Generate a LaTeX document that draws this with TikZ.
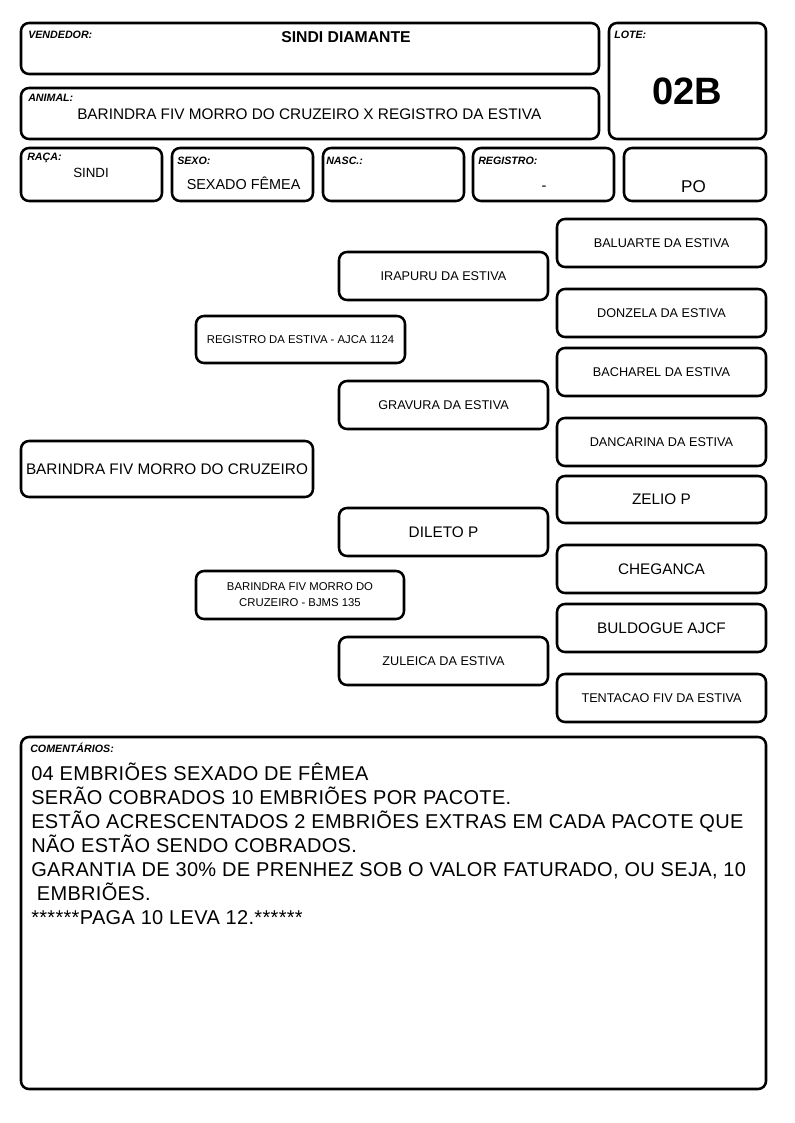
\documentclass[tikz,border=0pt]{standalone}
\usepackage{fontspec}
\setmainfont{Liberation Sans}
\newfontfamily\cmtfont[LetterSpace=1.6]{Liberation Sans}
\newcommand{\fs}[1]{\fontsize{#1}{#1}\selectfont}
\newcommand{\pbox}[7]{%
  \pgfmathsetmacro{\cxx}{(#2+#4)/2}\pgfmathsetmacro{\cyy}{(#3+#5)/2}%
  \pgfmathsetmacro{\ww}{(#4-#2)*0.75}\pgfmathsetmacro{\hh}{(#5-#3)*0.75}%
  \node[box, minimum width=\ww pt, minimum height=\hh pt, font=#6] (#1) at (\cxx,\cyy) {#7};}
\begin{document}
\begin{tikzpicture}[x=0.75pt,y=-0.75pt,
  box/.style={draw, line width=1.9pt, rounded corners=6pt, inner sep=0pt, align=center},
  lbl/.style={font=\fs{8}\bfseries\itshape, anchor=base west, inner sep=0pt},
  val/.style={inner sep=0pt},
  cmt/.style={inner sep=0pt, anchor=base west, font=\cmtfont\fs{15}}]
\useasboundingbox (0,0) rectangle (794,1123);
% header boxes
\pbox{vend}{21}{23}{599}{74}{}{}
\pbox{lote}{609}{23}{766}{139}{}{}
\pbox{anim}{21}{88}{599}{139}{}{}
\pbox{raca}{21}{148}{162}{201}{}{}
\pbox{sexo}{172}{148}{313}{201}{}{}
\pbox{nasc}{323}{148}{464}{201}{}{}
\pbox{regi}{473}{148}{614}{201}{}{}
\pbox{pobox}{624}{148}{766}{201}{}{}
\node[lbl] (lvend) at (28,39) {VENDEDOR:};
\node[lbl] (llote) at (614,38.5) {LOTE:};
\node[lbl] (lanim) at (28,102) {ANIMAL:};
\node[lbl] (lraca) at (27,161) {RAÇA:};
\node[lbl] (lsexo) at (177,164.5) {SEXO:};
\node[lbl] (lnasc) at (326,164.5) {NASC.:};
\node[lbl] (lregi) at (478,164.5) {REGISTRO:};
\node[val, anchor=base, font=\fs{11.8}\bfseries] (tvend) at (346,43) {SINDI DIAMANTE};
\node[val, anchor=base, font=\fs{28.6}\bfseries] (tlote) at (687,104.7) {02B};
\node[val, anchor=base west, font=\fs{11.5}] (tanim) at (77,119.5) {BARINDRA FIV MORRO DO CRUZEIRO X REGISTRO DA ESTIVA};
\node[val, anchor=base west, font=\fs{10}] (traca) at (73,178) {SINDI};
\node[val, anchor=base west, font=\fs{10.8}] (tsexo) at (186.5,189.5) {SEXADO FÊMEA};
\node[val, anchor=center, font=\fs{11}] (tregi) at (544,188) {-};
\node[val, anchor=base, font=\fs{12.8}] (tpo) at (693.5,193) {PO};
% pedigree
\pbox{animal}{21}{441}{313}{497}{\fs{11.5}}{BARINDRA FIV MORRO DO CRUZEIRO}
\pbox{pai}{196}{316}{405}{363}{\fs{8.5}}{REGISTRO DA ESTIVA - AJCA 1124}
\pbox{mae}{196}{571}{404}{619}{\fontsize{8.5}{12}\selectfont}{BARINDRA FIV MORRO DO\\CRUZEIRO - BJMS 135}
\pbox{pp}{339}{252}{548}{300}{\fs{9.5}}{IRAPURU DA ESTIVA}
\pbox{pm}{339}{381}{548}{429}{\fs{9.5}}{GRAVURA DA ESTIVA}
\pbox{mp}{339}{508}{548}{556}{\fs{11.5}}{DILETO P}
\pbox{mm}{339}{637}{548}{685}{\fs{9.5}}{ZULEICA DA ESTIVA}
\pbox{ppp}{557}{219}{766}{267}{\fs{9.5}}{BALUARTE DA ESTIVA}
\pbox{ppm}{557}{289}{766}{337}{\fs{9.5}}{DONZELA DA ESTIVA}
\pbox{pmp}{557}{348}{766}{396}{\fs{9.5}}{BACHAREL DA ESTIVA}
\pbox{pmm}{557}{418}{766}{466}{\fs{9.5}}{DANCARINA DA ESTIVA}
\pbox{mpp}{557}{476}{766}{523}{\fs{11.5}}{ZELIO P}
\pbox{mpm}{557}{545}{766}{593}{\fs{11.5}}{CHEGANCA}
\pbox{mmp}{557}{604}{766}{652}{\fs{11.5}}{BULDOGUE AJCF}
\pbox{mmm}{557}{674}{766}{722}{\fs{9.5}}{TENTACAO FIV DA ESTIVA}
% comments
\pbox{coment}{21}{737}{766}{1089}{}{}
\node[lbl] (lcom) at (30,752.5) {COMENTÁRIOS:};
\node[cmt] (c1) at (31,780) {04 EMBRIÕES SEXADO DE FÊMEA};
\node[cmt] (c2) at (31,804) {SERÃO COBRADOS 10 EMBRIÕES POR PACOTE.};
\node[cmt] (c3) at (31,828.2) {ESTÃO ACRESCENTADOS 2 EMBRIÕES EXTRAS EM CADA PACOTE QUE};
\node[cmt] (c4) at (31,852.3) {NÃO ESTÃO SENDO COBRADOS.};
\node[cmt] (c5) at (31,876.5) {GARANTIA DE 30\% DE PRENHEZ SOB O VALOR FATURADO, OU SEJA, 10};
\node[cmt] (c6) at (31,900.3) {\hspace*{0.28em}EMBRIÕES.};
\node[cmt] (c7) at (31,924.3) {******PAGA 10 LEVA 12.******};
\end{tikzpicture}
\end{document}
